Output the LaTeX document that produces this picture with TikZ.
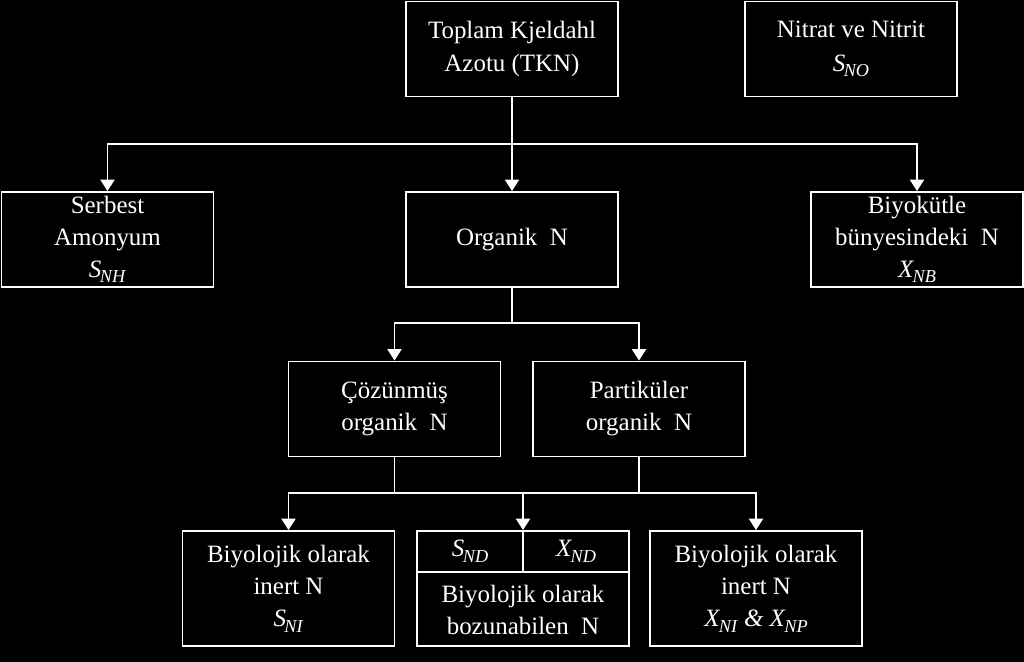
\documentclass[tikz,border=0pt]{standalone}
\usepackage{fontspec}
\setmainfont{Liberation Serif}
\usetikzlibrary{arrows.meta, positioning}

\newcommand{\nsub}[2]{\textit{#1}\kern-0.06em\raisebox{-0.5ex}{\fontsize{10.4}{11}\selectfont\textit{#2}}}

\begin{document}
\begin{tikzpicture}[x=0.02cm, y=-0.02cm,
  box/.style={draw=white, line width=1.1pt, fill=black, text=white, align=center,
    minimum width=4.24cm, minimum height=1.9cm, inner sep=0pt,
    font=\fontsize{14.2}{18.2}\selectfont},
  tallbox/.style={box, minimum height=2.3cm},
  celltext/.style={text=white, align=center, inner sep=0pt, font=\fontsize{14.2}{18.2}\selectfont},
  link/.style={draw=white, line width=1.1pt},
  conn/.style={link, -{Triangle[width=8pt,length=6.5pt]}}]

  \fill[black] (0,0) rectangle (1024,662);
  \useasboundingbox (0,0) rectangle (1024,662);

  \def\rowA{49}
  \def\rowB{239.5}
  \def\rowC{409}
  \def\rowD{588.5}

  \node[box] (tkn) at (512,\rowA) {Toplam Kjeldahl\\[1pt]Azotu (TKN)};
  \node[box] (nitrat) at (851,\rowA) {Nitrat ve Nitrit\\[1pt]\nsub{S}{NO}};

  \node[box] (serbest) at (107.5,\rowB) {Serbest\\Amonyum\\\nsub{S}{NH}};
  \node[box] (organik) at (512,\rowB) {Organik~~N};
  \node[box] (biyokutle) at (917,\rowB) {Biyokütle\\bünyesindeki~~N\\\nsub{X}{NB}};

  \node[box] (cozunmus) at (394.5,\rowC) {Çözünmüş\\organik~~N};
  \node[box] (partikuler) at (639,\rowC) {Partiküler\\organik~~N};

  \node[tallbox] (inertS) at (288.5,\rowD) {Biyolojik olarak\\inert N\\\nsub{S}{NI}};
  \node[tallbox] (bozun) at (523,\rowD) {};
  \node[tallbox] (inertX) at (756,\rowD) {Biyolojik olarak\\inert N\\\nsub{X}{NI} \textit{\&} \nsub{X}{NP}};

  \draw[link] ([yshift=-0.84cm]bozun.north west) -- ([yshift=-0.84cm]bozun.north east);
  \draw[link] (bozun.north) -- ([yshift=-0.84cm]bozun.north);
  \node[celltext] (snd) at ([xshift=-1.06cm, yshift=-0.42cm]bozun.north) {\nsub{S}{ND}};
  \node[celltext] (xnd) at ([xshift=1.06cm, yshift=-0.42cm]bozun.north) {\nsub{X}{ND}};
  \node[celltext] (bozuntext) at ([yshift=-1.6cm]bozun.north) {Biyolojik olarak\\bozunabilen~~N};

  \coordinate (bus1) at (512,144);
  \coordinate (bus2) at (512,323);
  \coordinate (bus3) at (523,493);

  \draw[conn] (tkn) -- (organik);
  \draw[conn] (bus1) -| (serbest);
  \draw[conn] (bus1) -| (biyokutle);

  \draw[link] (organik) -- (bus2);
  \draw[conn] (bus2) -| (cozunmus);
  \draw[conn] (bus2) -| (partikuler);

  \draw[link] (cozunmus) -- (cozunmus |- bus3);
  \draw[link] (partikuler) -- (partikuler |- bus3);
  \draw[conn] (bus3) -| (inertS);
  \draw[conn] (bus3) -| (inertX);
  \draw[conn] (bus3) -- (bozun);
\end{tikzpicture}
\end{document}
